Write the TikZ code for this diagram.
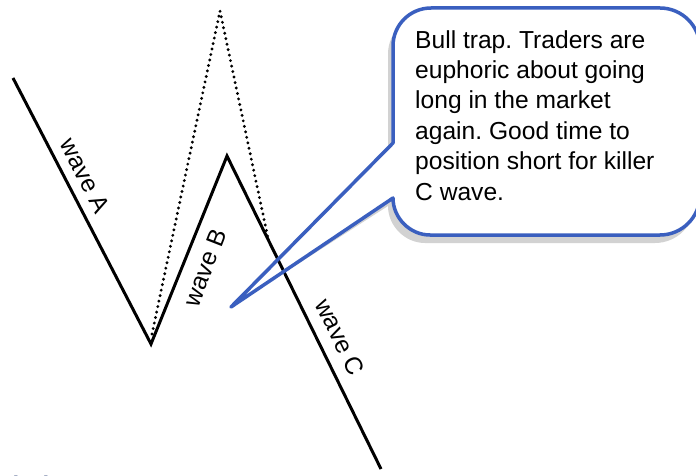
\documentclass[tikz,border=0pt]{standalone}
\usepackage{fontspec}
\setmainfont{Liberation Sans}
\frenchspacing
\definecolor{calloutblue}{HTML}{3A5FBF}
\definecolor{shadowgray}{HTML}{D2D2D2}
\definecolor{titleblue}{HTML}{1F3570}
\tikzset{
  waveline/.style={line width=3pt, black, line join=miter},
  dotline/.style={line width=3.2pt, black, dash pattern=on 0pt off 5.6pt, line cap=round},
  wavelabel/.style={font=\fontsize{24.5}{28}\selectfont, inner sep=0pt},
  calloutline/.style={line width=3.5pt, calloutblue, line join=round},
  callouttext/.style={font=\fontsize{24.6}{30.4}\selectfont, align=left, inner sep=0pt, anchor=north west},
  titlefrag/.style={font=\bfseries\fontsize{24}{28}\selectfont, text=titleblue, inner sep=0pt, anchor=base}
}
\newcommand{\calloutpath}{(393,143) -- (tip) -- (393,198) -- (393,198) .. controls (393,218) and (410,235) .. (430,235) -- (660,235) .. controls (682,235) and (700,217) .. (700,195) -- (700,48) .. controls (700,26) and (682,8) .. (660,8) -- (431,8) .. controls (410,8) and (393,25) .. (393,46) -- cycle}
\begin{document}
\begin{tikzpicture}[x=1pt,y=-1pt]
\clip (0,0) rectangle (696,476);
\fill[white] (0,0) rectangle (696,476);
% key points
\coordinate (a0) at (13,78);
\coordinate (a1) at (151,344);
\coordinate (b1) at (227,156);
\coordinate (c1) at (381,469);
\coordinate (d0) at (152,334);
\coordinate (d1) at (220,11);
\coordinate (d2) at (268,238);
\coordinate (tip) at (231,307);
% callout shadow and body
\begin{scope}[shift={(-5,8)}]
  \fill[shadowgray] \calloutpath;
\end{scope}
\fill[white] \calloutpath;
% waves
\draw[dotline] (d0) -- (d1) -- (d2);
\draw[waveline] (a0) -- (a1) -- (b1) -- (c1);
% callout outline
\draw[calloutline] \calloutpath;
% labels
\node[wavelabel, rotate=-63.3] (la) at (85,176) {wave A};
\node[wavelabel, rotate=68.7] (lb) at (205,268) {wave B};
\node[wavelabel, rotate=-63.9] (lc) at (340,337) {wave C};
\node[callouttext] (ct) at (415,30) {Bull trap. Traders are\\euphoric about going\\long in the market\\again. Good time to\\position short for killer\\C wave.};
% cut-off title fragments at bottom edge
\node[titlefrag] (t1) at (16,493) {l};
\node[titlefrag] (t2) at (46,493) {l};
\node[titlefrag] (t3) at (168,493) {D};
\end{tikzpicture}
\end{document}
